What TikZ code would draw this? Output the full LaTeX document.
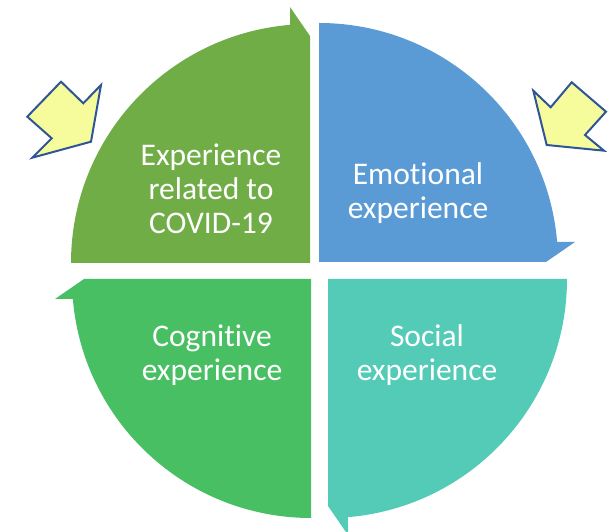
\documentclass[tikz,border=0pt]{standalone}
\usepackage{fontspec}
\setmainfont{Carlito}[Ligatures={NoCommon}]
\definecolor{segcovid}{HTML}{70AD47}
\definecolor{segemo}{HTML}{5B9BD5}
\definecolor{segsoc}{HTML}{53CBB6}
\definecolor{segcog}{HTML}{48BF63}
\definecolor{hintfill}{HTML}{F6FB9C}
\definecolor{hintline}{HTML}{2F5597}
\begin{document}
\begin{tikzpicture}[x=1pt,y=1pt,
  % quarter segment of the cycle, drawn for the top-left quarter;
  % the half arrowhead sits at its clockwise end
  quarter/.pic={
    \fill[pic actions] (0,0) -- (-239,0)
      arc[start angle=180, end angle=94.8, radius=239]
      -- (-20,256) -- (0,227) -- cycle;
  },
  lbl/.style={text=white, align=center, inner sep=0pt,
    font=\fontsize{31.5}{34}\selectfont},
  hint/.style={fill=hintfill, draw=hintline, line width=2pt, line join=miter}]
\useasboundingbox (0,0) rectangle (611,532);

% the four segments of the cycle
\pic (covid) [fill=segcovid] at (310,269) {quarter};
\pic (emo) [fill=segemo, rotate=-90] at (319,270) {quarter};
\pic (soc) [fill=segsoc, rotate=180] at (328,253) {quarter};
\pic (cog) [fill=segcog, rotate=90] at (311,253) {quarter};

% labels
\node[lbl] (tcovid) at (211,343) {Experience\\related to\\COVID-19};
\node[lbl] (temo) at (418,339) {Emotional\\experience};
\node[lbl] (tcog) at (212,177) {Cognitive\\experience};
\node[lbl] (tsoc) at (427,177) {Social\\experience};

% pointer arrows aimed at the upper segments
\draw[hint] (61,450.3) -- (83.3,428.7) -- (101,447) -- (91,390.3)
  -- (32.3,374.3) -- (51.7,393.7) -- (27.3,415.3) -- cycle;
\draw[hint] (533.3,441.3) -- (550.7,424.7) -- (571.7,449.7) -- (606,420.3)
  -- (585,397) -- (604,381.3) -- (546.7,387) -- cycle;
\end{tikzpicture}
\end{document}
